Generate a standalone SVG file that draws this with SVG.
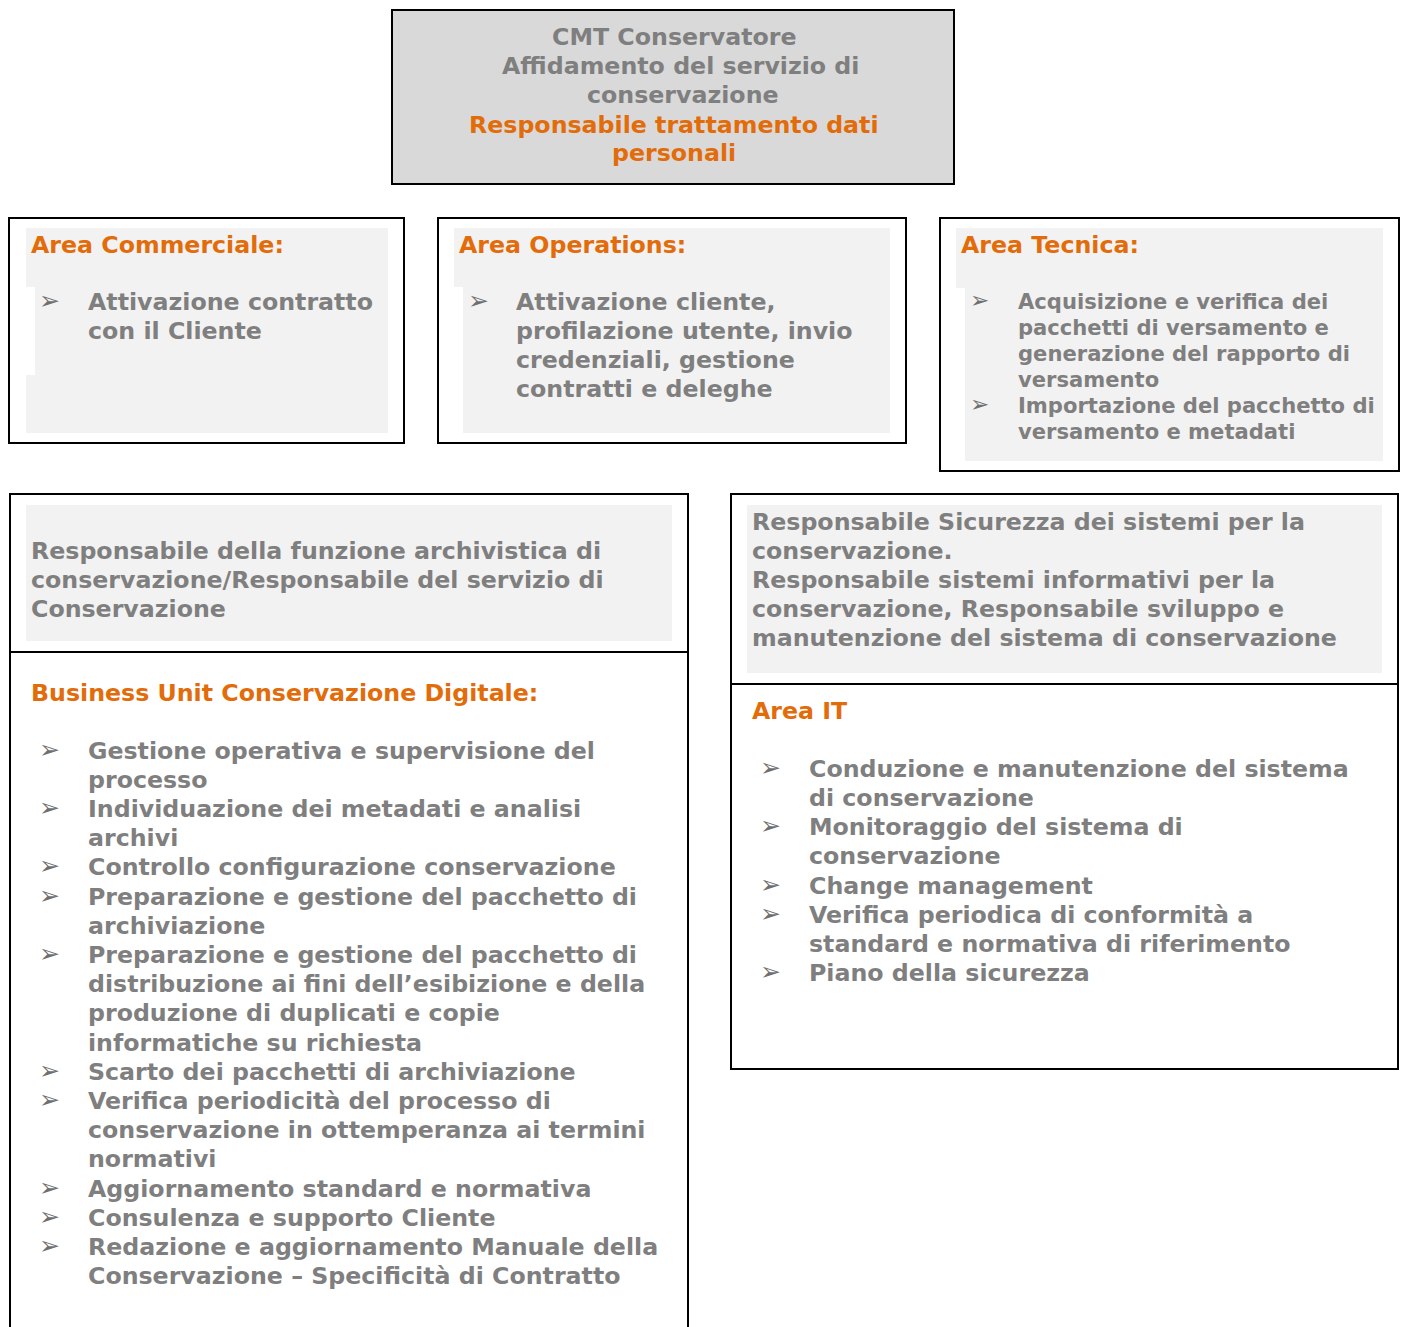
<svg xmlns="http://www.w3.org/2000/svg" width="1403" height="1327" viewBox="0 0 1403 1327">
<style>
text{font-family:"DejaVu Sans","Verdana","Liberation Sans",sans-serif;font-weight:bold;font-size:23.7px;fill:#7f7f7f}
.o{fill:#e36c0a}
.s{font-size:21.1px}
.b{font-size:25px;font-weight:normal;fill:#6f6f6f}
.bs{font-size:23px;font-weight:normal;fill:#6f6f6f}
.box{fill:#fff;stroke:#000;stroke-width:2}
.g{fill:#f2f2f2}
</style>
<rect width="1403" height="1327" fill="#fff"/>

<g id="top">
<rect x="392" y="10" width="562" height="174" fill="#d9d9d9" stroke="#000" stroke-width="2"/>
<text x="552" y="45">CMT Conservatore</text>
<text x="502" y="74">Affidamento del servizio di</text>
<text x="587" y="103">conservazione</text>
<text class="o" x="469" y="132.5">Responsabile trattamento dati</text>
<text class="o" x="612" y="161">personali</text>
</g>

<g id="area-commerciale">
<rect class="box" x="9" y="218" width="395" height="225"/>
<path class="g" d="M26,228H388V433H26V375H35V287H26Z"/>
<text class="o" x="31" y="253">Area Commerciale:</text>
<text class="b" x="39" y="309">➢</text>
<text x="88" y="310">Attivazione contratto</text>
<text x="88" y="339">con il Cliente</text>
</g>

<g id="area-operations">
<rect class="box" x="438" y="218" width="468" height="225"/>
<path class="g" d="M454,228H890V433H463V287H454Z"/>
<text class="o" x="459" y="253">Area Operations:</text>
<text class="b" x="468" y="309">➢</text>
<text x="516" y="310">Attivazione cliente,</text>
<text x="516" y="339">profilazione utente, invio</text>
<text x="516" y="368">credenziali, gestione</text>
<text x="516" y="397">contratti e deleghe</text>
</g>

<g id="area-tecnica">
<rect class="box" x="940" y="218" width="459" height="253"/>
<path class="g" d="M956,228H1383V461H965V288H956Z"/>
<text class="o" x="961" y="253">Area Tecnica:</text>
<text class="bs" x="970" y="308">➢</text>
<text class="s" x="1018" y="308.5">Acquisizione e verifica dei</text>
<text class="s" x="1018" y="334.5">pacchetti di versamento e</text>
<text class="s" x="1018" y="360.5">generazione del rapporto di</text>
<text class="s" x="1018" y="386.5">versamento</text>
<text class="bs" x="970" y="412">➢</text>
<text class="s" x="1018" y="412.5">Importazione del pacchetto di</text>
<text class="s" x="1018" y="438.5">versamento e metadati</text>
</g>

<g id="bu-conservazione">
<rect class="box" x="10" y="494" width="678" height="850"/>
<line x1="10" y1="652" x2="688" y2="652" stroke="#000" stroke-width="2"/>
<rect class="g" x="26" y="505" width="646" height="136"/>
<text x="31" y="559">Responsabile della funzione archivistica di</text>
<text x="31" y="588">conservazione/Responsabile del servizio di</text>
<text x="31" y="617">Conservazione</text>
<text class="o" x="31" y="701">Business Unit Conservazione Digitale:</text>
<text class="b" x="39" y="757.5">➢</text>
<text x="88" y="758.5">Gestione operativa e supervisione del</text>
<text x="88" y="787.7">processo</text>
<text class="b" x="39" y="815.9">➢</text>
<text x="88" y="816.9">Individuazione dei metadati e analisi</text>
<text x="88" y="846.1">archivi</text>
<text class="b" x="39" y="874.3">➢</text>
<text x="88" y="875.3">Controllo configurazione conservazione</text>
<text class="b" x="39" y="903.5">➢</text>
<text x="88" y="904.5">Preparazione e gestione del pacchetto di</text>
<text x="88" y="933.7">archiviazione</text>
<text class="b" x="39" y="961.9">➢</text>
<text x="88" y="962.9">Preparazione e gestione del pacchetto di</text>
<text x="88" y="992.1">distribuzione ai fini dell’esibizione e della</text>
<text x="88" y="1021.3">produzione di duplicati e copie</text>
<text x="88" y="1050.5">informatiche su richiesta</text>
<text class="b" x="39" y="1078.7">➢</text>
<text x="88" y="1079.7">Scarto dei pacchetti di archiviazione</text>
<text class="b" x="39" y="1107.9">➢</text>
<text x="88" y="1108.9">Verifica periodicità del processo di</text>
<text x="88" y="1138.1">conservazione in ottemperanza ai termini</text>
<text x="88" y="1167.3">normativi</text>
<text class="b" x="39" y="1195.5">➢</text>
<text x="88" y="1196.5">Aggiornamento standard e normativa</text>
<text class="b" x="39" y="1224.7">➢</text>
<text x="88" y="1225.7">Consulenza e supporto Cliente</text>
<text class="b" x="39" y="1253.9">➢</text>
<text x="88" y="1254.9">Redazione e aggiornamento Manuale della</text>
<text x="88" y="1284.1">Conservazione – Specificità di Contratto</text>
</g>

<g id="area-it">
<rect class="box" x="731" y="494" width="667" height="575"/>
<line x1="731" y1="684" x2="1398" y2="684" stroke="#000" stroke-width="2"/>
<rect class="g" x="747" y="505" width="635" height="168"/>
<text x="752" y="530">Responsabile Sicurezza dei sistemi per la</text>
<text x="752" y="559">conservazione.</text>
<text x="752" y="588">Responsabile sistemi informativi per la</text>
<text x="752" y="617">conservazione, Responsabile sviluppo e</text>
<text x="752" y="646">manutenzione del sistema di conservazione</text>
<text class="o" x="752" y="719">Area IT</text>
<text class="b" x="760" y="776">➢</text>
<text x="809" y="777">Conduzione e manutenzione del sistema</text>
<text x="809" y="806">di conservazione</text>
<text class="b" x="760" y="834">➢</text>
<text x="809" y="835">Monitoraggio del sistema di</text>
<text x="809" y="864">conservazione</text>
<text class="b" x="760" y="892.5">➢</text>
<text x="809" y="893.5">Change management</text>
<text class="b" x="760" y="921.5">➢</text>
<text x="809" y="922.5">Verifica periodica di conformità a</text>
<text x="809" y="952">standard e normativa di riferimento</text>
<text class="b" x="760" y="980">➢</text>
<text x="809" y="981">Piano della sicurezza</text>
</g>

<g id="connectors"></g>
</svg>
